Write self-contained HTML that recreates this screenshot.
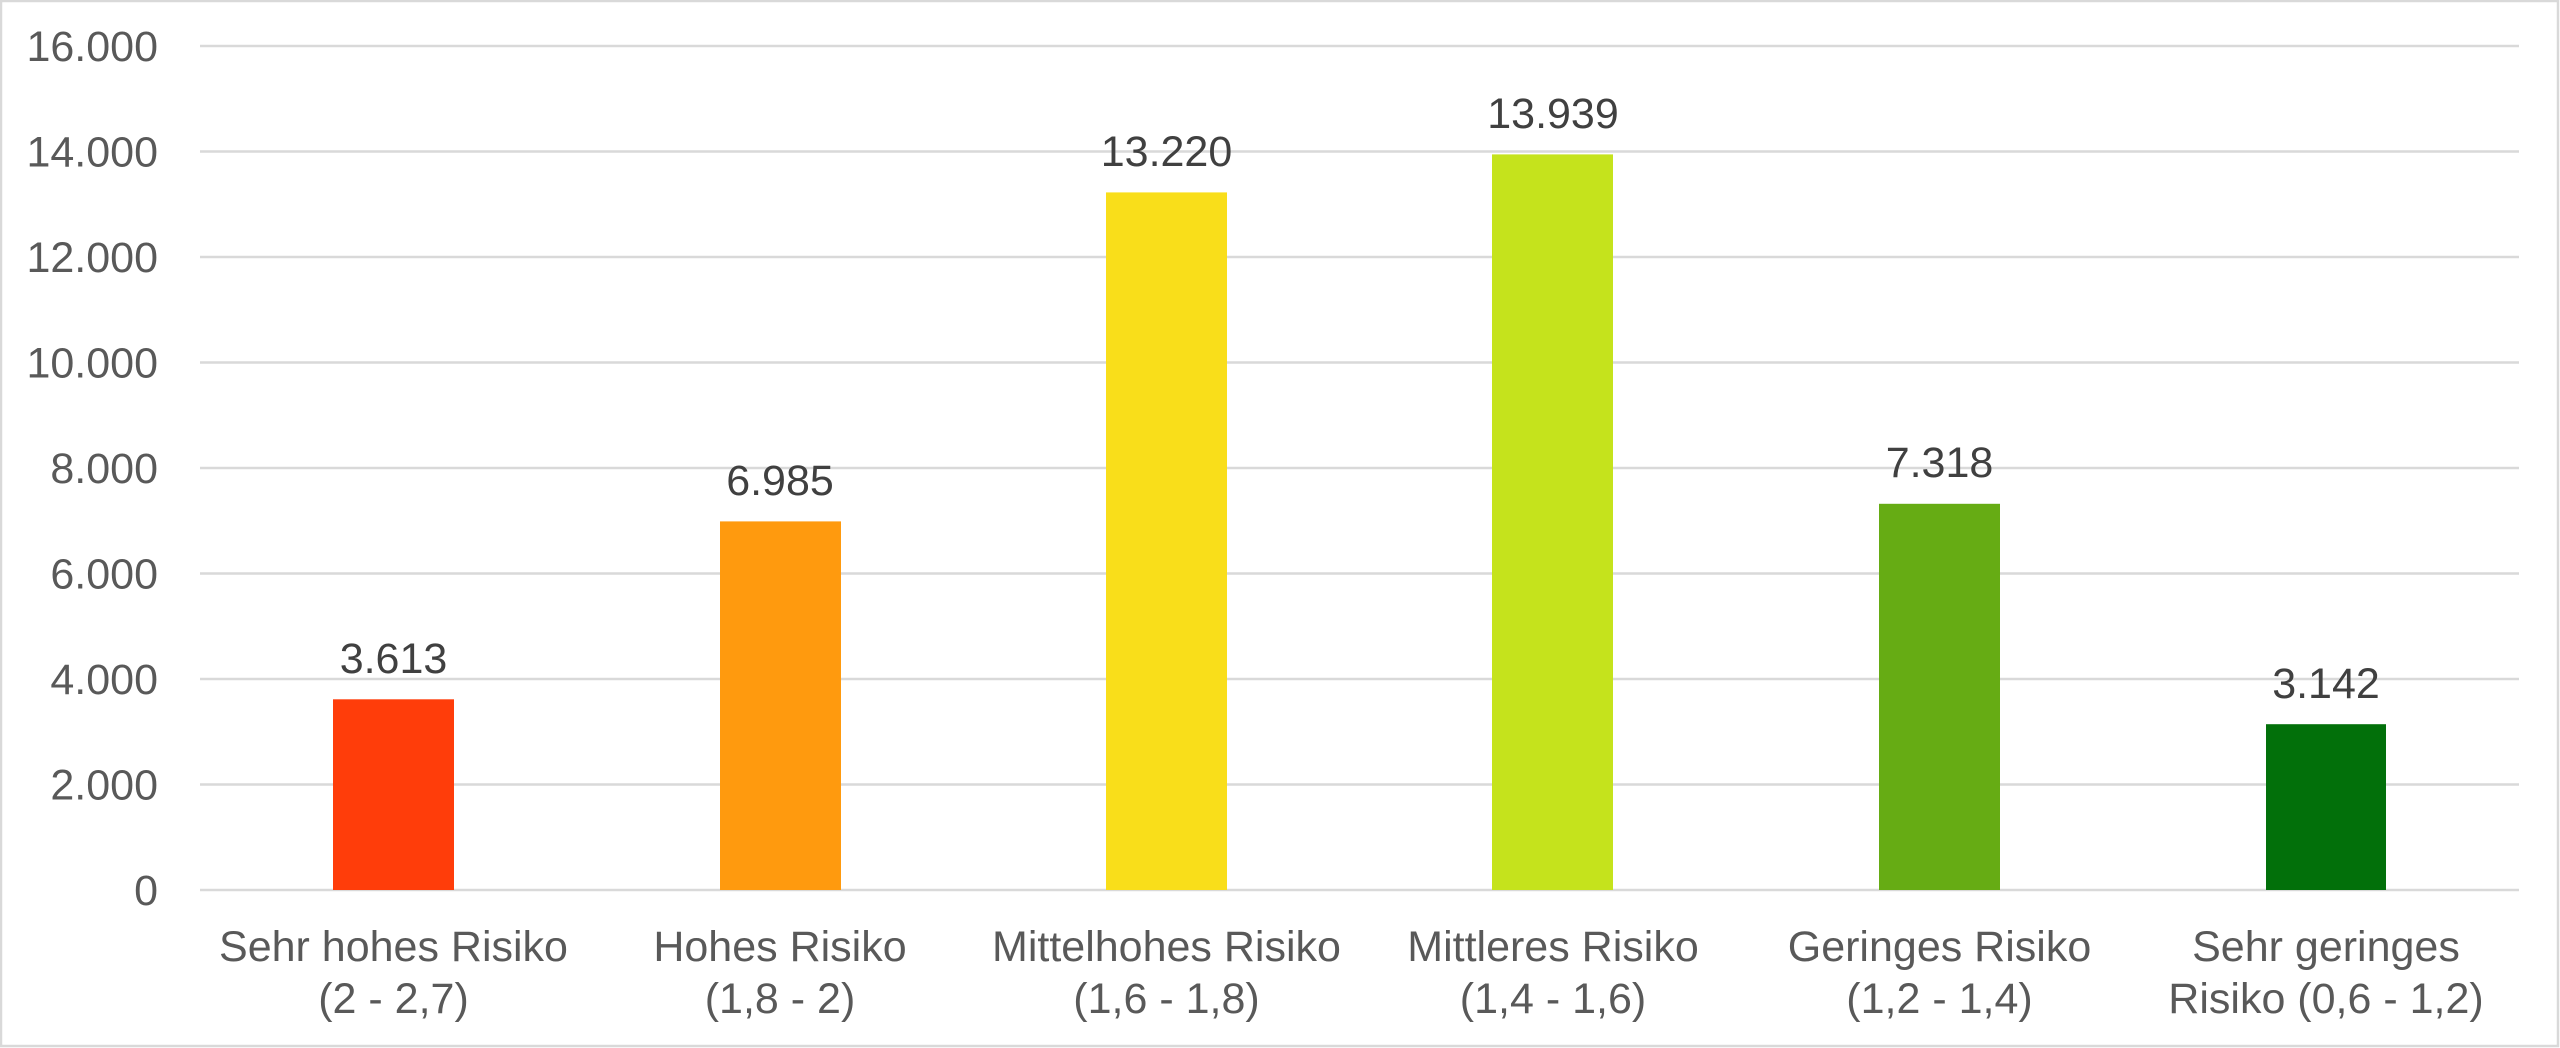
<!DOCTYPE html>
<html><head><meta charset="utf-8"><style>
html,body{margin:0;padding:0;background:#fff;}
svg{display:block;}
text{font-family:"Liberation Sans",sans-serif;}
</style></head><body>
<svg width="2560" height="1048" viewBox="0 0 2560 1048" xmlns="http://www.w3.org/2000/svg">
<rect x="1" y="1" width="2557" height="1045" fill="#fff" stroke="#d9d9d9" stroke-width="2.5"/>
<g stroke="#d9d9d9" stroke-width="2.5">
<line x1="200" x2="2519" y1="46" y2="46"/>
<line x1="200" x2="2519" y1="151.5" y2="151.5"/>
<line x1="200" x2="2519" y1="257" y2="257"/>
<line x1="200" x2="2519" y1="362.5" y2="362.5"/>
<line x1="200" x2="2519" y1="468" y2="468"/>
<line x1="200" x2="2519" y1="573.5" y2="573.5"/>
<line x1="200" x2="2519" y1="679" y2="679"/>
<line x1="200" x2="2519" y1="784.5" y2="784.5"/>
<line x1="200" x2="2519" y1="890" y2="890"/>
</g>
<g font-size="43" fill="#595959" text-anchor="end">
<text x="158" y="61">16.000</text>
<text x="158" y="166.5">14.000</text>
<text x="158" y="272">12.000</text>
<text x="158" y="377.5">10.000</text>
<text x="158" y="483">8.000</text>
<text x="158" y="588.5">6.000</text>
<text x="158" y="694">4.000</text>
<text x="158" y="799.5">2.000</text>
<text x="158" y="905">0</text>
</g>
<rect x="333" y="699.3" width="121" height="190.7" fill="#FF3D0A"/>
<rect x="720" y="521.4" width="121" height="368.6" fill="#FF9A0E"/>
<rect x="1106" y="192.4" width="121" height="697.6" fill="#F9DE1A"/>
<rect x="1492" y="154.4" width="121" height="735.6" fill="#C5E31C"/>
<rect x="1879" y="503.8" width="121" height="386.2" fill="#66AC14"/>
<rect x="2266" y="724.2" width="120" height="165.8" fill="#02700A"/>
<g font-size="43" fill="#404040" text-anchor="middle">
<text x="393.5" y="673">3.613</text>
<text x="780" y="495">6.985</text>
<text x="1166.5" y="166">13.220</text>
<text x="1553" y="128">13.939</text>
<text x="1939.5" y="477">7.318</text>
<text x="2326" y="698">3.142</text>
</g>
<g font-size="43" fill="#595959" text-anchor="middle">
<text x="393.5" y="961">Sehr hohes Risiko</text><text x="393.5" y="1013">(2 - 2,7)</text>
<text x="780" y="961">Hohes Risiko</text><text x="780" y="1013">(1,8 - 2)</text>
<text x="1166.5" y="961">Mittelhohes Risiko</text><text x="1166.5" y="1013">(1,6 - 1,8)</text>
<text x="1553" y="961">Mittleres Risiko</text><text x="1553" y="1013">(1,4 - 1,6)</text>
<text x="1939.5" y="961">Geringes Risiko</text><text x="1939.5" y="1013">(1,2 - 1,4)</text>
<text x="2326" y="961">Sehr geringes</text><text x="2326" y="1013">Risiko (0,6 - 1,2)</text>
</g>
</svg>
</body></html>
